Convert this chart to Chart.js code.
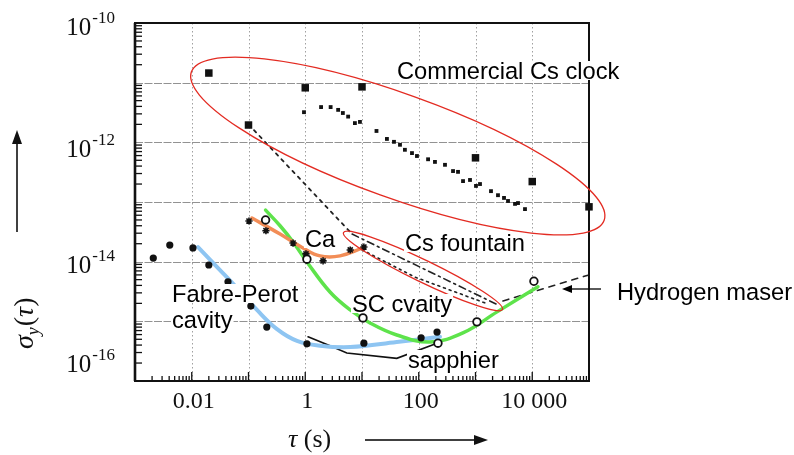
<!DOCTYPE html>
<html><head><meta charset="utf-8">
<script src="https://cdn.jsdelivr.net/npm/chart.js@4.4.0/dist/chart.umd.min.js"></script>
<style>html,body{margin:0;padding:0;background:#fff;}canvas{display:block;}</style>
</head><body>
<canvas id="c" width="794" height="455"></canvas>
<script>
// ---------- axis ticks ----------
const xTickValues = [0.01, 1, 100, 10000];
const xTickLabels = ['0.01', '1', '100', '10 000'];
const yTickValues = [1e-10, 1e-12, 1e-14, 1e-16];
const yTickExponents = ['-10', '-12', '-14', '-16'];

// ---------- series (tau in s, sigma_y) ----------
const csSpecTau   = [0.02, 0.1, 1, 10, 1000, 10000, 100000];
const csSpecSigma = [1.45e-11, 1.95e-12, 8.2e-12, 8.5e-12, 5.5e-13, 2.2e-13, 8.3e-14];

const csMeasTau   = [0.95, 1.9, 2.8, 3.8, 4.6, 5.7, 7.5, 9.2, 18, 27.5, 36.6, 46.7, 57, 76, 93, 146, 193, 290, 402, 492, 603, 800, 1020, 1200, 1875, 2490, 3180, 3740, 4970, 5610, 7450];
const csMeasSigma = [3.2e-12, 3.9e-12, 3.9e-12, 3.5e-12, 3.1e-12, 2.7e-12, 2.1e-12, 2.2e-12, 1.55e-12, 1.14e-12, 1.02e-12, 9.1e-13, 7.5e-13, 6.6e-13, 5.9e-13, 5.2e-13, 4.7e-13, 4.2e-13, 3.3e-13, 3.2e-13, 2.24e-13, 2.34e-13, 1.86e-13, 2.0e-13, 1.52e-13, 1.3e-13, 1.17e-13, 1.04e-13, 9.3e-14, 9.6e-14, 7.6e-14];

const csShortTau   = [0.1, 6.7];
const csShortSigma = [2e-12, 2.9e-14];

const fountainATau   = [6.7, 2500];
const fountainASigma = [2.9e-14, 1.88e-15];
const fountainBTau   = [10, 86, 1660];
const fountainBSigma = [1.58e-14, 5.5e-15, 1.95e-15];

const hMaserTau   = [3050, 100000];
const hMaserSigma = [2.2e-15, 6.0e-15];

const caStarTau   = [0.102, 0.203, 0.61, 1.03, 2.06, 6.2, 10.8];
const caStarSigma = [4.8e-14, 3.3e-14, 2.05e-14, 1.35e-14, 1.03e-14, 1.57e-14, 1.76e-14];
const caCurveTau   = [0.115, 0.36, 0.91, 1.82, 4.1, 10.4];
const caCurveSigma = [5.4e-14, 2.9e-14, 1.7e-14, 1.25e-14, 1.25e-14, 1.7e-14];

const openTau   = [0.2, 1.07, 10.4, 1060, 10700, 218];
const openSigma = [5.0e-14, 1.1e-14, 1.14e-15, 9.8e-16, 4.7e-15, 4.3e-16];

const dotTau   = [0.0021, 0.0041, 0.0105, 0.020, 0.0435, 0.11, 0.21, 1.07, 10.8, 110, 210];
const dotSigma = [1.15e-14, 1.9e-14, 1.7e-14, 8.8e-15, 4.6e-15, 1.8e-15, 8.0e-16, 4.2e-16, 4.3e-16, 5.3e-16, 6.6e-16];

const fpTau   = [0.0129, 0.028, 0.063, 0.141, 0.318, 0.716, 1.82, 6.2, 41, 237];
const fpSigma = [1.76e-14, 8.1e-15, 3.6e-15, 1.55e-15, 7.4e-16, 4.7e-16, 3.9e-16, 3.7e-16, 4.5e-16, 5.5e-16];

const scTau   = [0.2, 0.36, 0.61, 1.07, 2.73, 6.2, 13.8, 41, 158, 600, 2400, 12600];
const scSigma = [7.3e-14, 4.0e-14, 2.14e-14, 9.9e-15, 3.1e-15, 1.55e-15, 9.4e-16, 5.9e-16, 4.5e-16, 6.4e-16, 1.44e-15, 3.8e-15];

const sapTau   = [1.12, 2.73, 5.4, 41, 210];
const sapSigma = [5.5e-16, 3.9e-16, 2.95e-16, 2.4e-16, 4.3e-16];

// ---------- annotations ----------
const ellipses = [
  {from: [0.00986, 1.52e-11], to: [1.85e5, 4.95e-14], minor: 52},
  {from: [4.72, 3.08e-14], to: [2990, 1.58e-15], minor: 11}
];
const notes = [
  {text: 'Commercial Cs clock', x: 397, y: 79},
  {text: 'Cs fountain', x: 405, y: 251},
  {text: 'Ca', x: 305, y: 247},
  {text: 'SC cvaity', x: 352, y: 312},
  {text: 'sapphier', x: 408, y: 368},
  {text: 'Fabre-Perot', x: 172, y: 302},
  {text: 'cavity', x: 172, y: 328},
  {text: 'Hydrogen maser', x: 617, y: 300}
];
const yLabelNudge = [12, 15, 11, -9];

const pts = (t, s) => t.map((v, i) => ({x: v, y: s[i]}));
const markers = (data, style, r, fill, stroke, bw) => ({data, pointStyle: style, pointRadius: r, pointHoverRadius: r,
  backgroundColor: fill, borderColor: stroke, borderWidth: bw, showLine: false, clip: false});
const line = (data, color, w, dash, tension) => ({data, borderColor: color, borderWidth: w, borderDash: dash,
  tension: tension, pointRadius: 0, showLine: true, fill: false, clip: false, borderCapStyle: 'round'});

const datasets = [
  markers(pts(csSpecTau, csSpecSigma), 'rect', 5.3, '#111', '#111', 0),
  markers(pts(csMeasTau, csMeasSigma), 'rect', 2.7, '#111', '#111', 0),
  markers(pts(openTau, openSigma), 'circle', 3.8, '#fff', '#111', 1.8),
  markers(pts(dotTau, dotSigma), 'circle', 3.6, '#111', '#111', 0),
  markers(pts(caStarTau, caStarSigma), 'star', 3.6, '#111', '#111', 1.6),
  line(pts(caCurveTau, caCurveSigma), '#F28D57', 3.5, [], 0.4),
  line(pts(scTau, scSigma), '#5EE34B', 3.5, [], 0.4),
  line(pts(fpTau, fpSigma), '#8EC5F2', 4, [], 0.4),
  line(pts(sapTau, sapSigma), '#111', 1.6, [], 0),
  line(pts(csShortTau, csShortSigma), '#222', 1.8, [3, 5], 0),
  line(pts(fountainATau, fountainASigma), '#222', 1.6, [7, 4, 2, 4], 0),
  line(pts(fountainBTau, fountainBSigma), '#222', 1.6, [2, 4], 0),
  line(pts(hMaserTau, hMaserSigma), '#222', 1.6, [6, 6], 0)
];

const SERIF = '"Liberation Serif", "Times New Roman", serif';
const SANS = '"Liberation Sans", Arial, sans-serif';

function arrow(ctx, x1, y1, x2, y2, len, half, w) {
  const ang = Math.atan2(y2 - y1, x2 - x1);
  ctx.lineWidth = w;
  ctx.beginPath(); ctx.moveTo(x1, y1);
  ctx.lineTo(x2 - Math.cos(ang) * len * 0.8, y2 - Math.sin(ang) * len * 0.8); ctx.stroke();
  ctx.beginPath(); ctx.moveTo(x2, y2);
  ctx.lineTo(x2 - Math.cos(ang) * len - Math.sin(ang) * half, y2 - Math.sin(ang) * len + Math.cos(ang) * half);
  ctx.lineTo(x2 - Math.cos(ang) * len + Math.sin(ang) * half, y2 - Math.sin(ang) * len - Math.cos(ang) * half);
  ctx.closePath(); ctx.fill();
}

const overlay = {
  id: 'overlay',
  beforeDatasetsDraw(chart) {
    const {ctx, chartArea: a, scales: {x, y}} = chart;
    ctx.save();
    ctx.lineWidth = 1;
    ctx.strokeStyle = 'rgba(120,120,120,0.7)';
    ctx.setLineDash([1.5, 2.5]);
    for (let e = -2; e <= 4; e++) {
      const px = Math.round(x.getPixelForValue(Math.pow(10, e))) + 0.5;
      ctx.beginPath(); ctx.moveTo(px, a.top); ctx.lineTo(px, a.bottom); ctx.stroke();
    }
    ctx.setLineDash([8, 1.5]);
    ctx.strokeStyle = 'rgba(110,110,110,0.75)';
    for (let e = -15; e <= -11; e++) {
      const py = Math.round(y.getPixelForValue(Math.pow(10, e))) + 0.5;
      ctx.beginPath(); ctx.moveTo(a.left, py); ctx.lineTo(a.right, py); ctx.stroke();
    }
    ctx.setLineDash([]);
    // minor ticks
    ctx.strokeStyle = '#111'; ctx.lineWidth = 1.3;
    for (let e = -3; e <= 4; e++) {
      for (let k = 1; k <= 9; k++) {
        const px = x.getPixelForValue(k * Math.pow(10, e));
        if (px <= a.left + 1 || px >= a.right - 1) continue;
        const L = k === 1 ? 9 : 5;
        ctx.beginPath(); ctx.moveTo(px, a.bottom); ctx.lineTo(px, a.bottom - L); ctx.stroke();
      }
    }
    for (let e = -16; e <= -11; e++) {
      for (let k = 2; k <= 9; k++) {
        const py = y.getPixelForValue(k * Math.pow(10, e));
        ctx.beginPath(); ctx.moveTo(a.left, py); ctx.lineTo(a.left + 7, py); ctx.stroke();
      }
    }
    ctx.restore();
  },
  afterDatasetsDraw(chart) {
    const {ctx, chartArea: a, scales: {x, y}} = chart;
    ctx.save();
    // frame
    ctx.strokeStyle = '#111'; ctx.lineWidth = 2;
    ctx.strokeRect(a.left, a.top, a.right - a.left, a.bottom - a.top);
    ctx.lineWidth = 2.6;
    ctx.beginPath(); ctx.moveTo(a.left, a.top); ctx.lineTo(a.left, a.bottom); ctx.stroke();

    // ellipses
    ctx.strokeStyle = '#E32B22'; ctx.lineWidth = 1.3;
    ellipses.forEach(el => {
      const x1 = x.getPixelForValue(el.from[0]), y1 = y.getPixelForValue(el.from[1]);
      const x2 = x.getPixelForValue(el.to[0]), y2 = y.getPixelForValue(el.to[1]);
      ctx.beginPath();
      ctx.ellipse((x1 + x2) / 2, (y1 + y2) / 2, Math.hypot(x2 - x1, y2 - y1) / 2, el.minor,
        Math.atan2(y2 - y1, x2 - x1), 0, Math.PI * 2);
      ctx.stroke();
    });

    // notes with white backing
    ctx.font = '23.7px ' + SANS;
    ctx.textBaseline = 'alphabetic'; ctx.textAlign = 'left';
    notes.forEach(n => {
      const m = ctx.measureText(n.text);
      ctx.fillStyle = '#fff';
      ctx.fillRect(n.x - 1, n.y - m.actualBoundingBoxAscent - 1, m.width + 2, m.actualBoundingBoxAscent + 2);
      ctx.fillStyle = '#000';
      ctx.fillText(n.text, n.x, n.y);
    });

    // hydrogen maser arrow
    ctx.strokeStyle = '#000'; ctx.fillStyle = '#000';
    arrow(ctx, 601, 289, 562, 289, 10, 4, 1.3);

    // x tick labels
    ctx.font = '24px ' + SERIF; ctx.textAlign = 'center'; ctx.fillStyle = '#111';
    xTickValues.forEach((v, i) => ctx.fillText(xTickLabels[i], x.getPixelForValue(v) + 2, a.bottom + 27));

    // y tick labels 10^n
    yTickValues.forEach((v, i) => {
      const py = y.getPixelForValue(v) + yLabelNudge[i];
      ctx.font = '25px ' + SERIF; const wb = ctx.measureText('10').width;
      ctx.font = '17px ' + SERIF; const we = ctx.measureText(yTickExponents[i]).width;
      const right = a.left - 20, left = right - we - wb - 1;
      ctx.textAlign = 'left';
      ctx.font = '25px ' + SERIF; ctx.fillText('10', left, py);
      ctx.font = '17px ' + SERIF; ctx.fillText(yTickExponents[i], left + wb + 1, py - 12);
    });

    // x title tau (s)
    ctx.textAlign = 'left';
    let tx = 288; const ty = 447;
    ctx.font = 'italic 26px ' + SERIF; ctx.fillText('τ', tx, ty); tx += ctx.measureText('τ').width;
    ctx.font = '26px ' + SERIF; ctx.fillText(' (s)', tx, ty);
    arrow(ctx, 365, 440, 488, 440, 14, 5, 1.5);

    // y title sigma_y(tau), rotated
    ctx.save();
    ctx.translate(33, 349); ctx.rotate(-Math.PI / 2);
    let sx = 0;
    ctx.font = 'italic 28px ' + SERIF; ctx.fillText('σ', sx, 0); sx += ctx.measureText('σ').width;
    ctx.font = 'italic 18px ' + SERIF; ctx.fillText('y', sx, 6); sx += ctx.measureText('y').width + 1;
    ctx.font = '28px ' + SERIF; ctx.fillText('(', sx, 0); sx += ctx.measureText('(').width;
    ctx.font = 'italic 28px ' + SERIF; ctx.fillText('τ', sx, 0); sx += ctx.measureText('τ').width;
    ctx.font = '28px ' + SERIF; ctx.fillText(')', sx, 0);
    ctx.restore();
    arrow(ctx, 17, 232, 17, 130, 14, 5, 1.5);
    ctx.restore();
  }
};

new Chart(document.getElementById('c'), {
  type: 'scatter',
  data: {datasets},
  options: {
    responsive: false,
    animation: false,
    layout: {padding: {left: 135, right: 205, top: 23, bottom: 74}},
    plugins: {legend: {display: false}, tooltip: {enabled: false}},
    scales: {
      x: {type: 'logarithmic', min: 1e-3, max: 1e5, display: false},
      y: {type: 'logarithmic', min: 1e-16, max: 1e-10, display: false}
    }
  },
  plugins: [overlay]
});
</script>
</body></html>
